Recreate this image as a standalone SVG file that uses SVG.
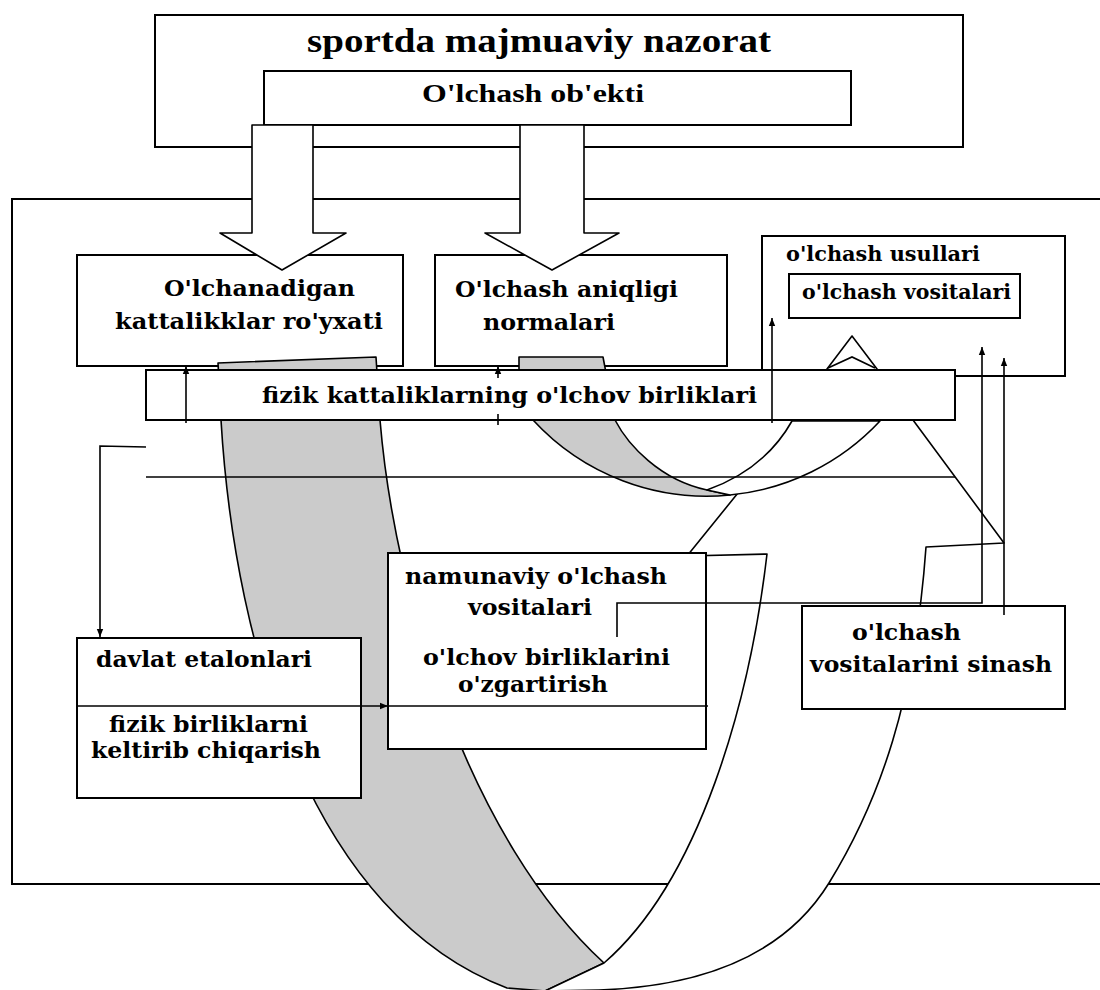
<svg xmlns="http://www.w3.org/2000/svg" width="1100" height="990" viewBox="0 0 1100 990">
<defs>
<marker id="ah" viewBox="0 0 10 10" refX="10" refY="5" markerWidth="10" markerHeight="8" markerUnits="userSpaceOnUse" orient="auto"><path d="M0,1 L10,5 L0,9 Z" fill="#000"/></marker>
<style>
.box{fill:#fff;stroke:#000;stroke-width:2}
.frame{fill:none;stroke:#000;stroke-width:2}
.ln{fill:none;stroke:#000;stroke-width:1.6}
.rib{stroke:#000;stroke-width:1.6;stroke-linejoin:round}
.gray{fill:#cbcbcb}
.white{fill:#fff}
.t{font-family:"DejaVu Serif","Liberation Serif",serif;font-weight:bold;font-size:23px;fill:#000}
.ts{font-size:20px}
.tt{font-family:"Liberation Serif","Times New Roman",serif;font-weight:bold;fill:#000}
</style>
</defs>

<!-- heading block -->
<g id="title">
<rect class="box" x="155" y="15" width="808" height="132"/>
<text class="tt" x="307" y="52" font-size="34" textLength="464" lengthAdjust="spacingAndGlyphs">sportda majmuaviy nazorat</text>
</g>
<g id="object">
<rect class="box" x="264" y="71" width="587" height="54"/>
<text class="tt" x="422" y="102" font-size="26" textLength="222" lengthAdjust="spacingAndGlyphs">O'lchash ob'ekti</text>
</g>

<!-- outer frame, open on the right -->
<path class="frame" d="M1110,199 H12 V884 H1110"/>

<!-- upper boxes -->
<g id="quantities">
<rect class="box" x="77" y="255" width="326" height="111"/>
<text class="t" x="164" y="296" textLength="191" lengthAdjust="spacingAndGlyphs">O'lchanadigan</text>
<text class="t" x="115" y="329" textLength="268" lengthAdjust="spacingAndGlyphs">kattalikklar ro'yxati</text>
</g>
<g id="accuracy">
<rect class="box" x="435" y="255" width="292" height="111"/>
<text class="t" x="455" y="297" textLength="223" lengthAdjust="spacingAndGlyphs">O'lchash aniqligi</text>
<text class="t" x="483" y="330" textLength="132" lengthAdjust="spacingAndGlyphs">normalari</text>
</g>
<g id="methods">
<rect class="box" x="762" y="236" width="303" height="140"/>
<text class="t ts" x="786" y="261" textLength="194" lengthAdjust="spacingAndGlyphs">o'lchash usullari</text>
</g>
<g id="instruments">
<rect class="box" x="789" y="274" width="231" height="44"/>
<text class="t ts" x="802" y="299" textLength="209" lengthAdjust="spacingAndGlyphs">o'lchash vositalari</text>
</g>

<!-- twisted ribbons -->
<g id="ribbons">
<!-- large ribbon: shaded back face -->
<path class="rib gray" d="M218,363 L376,357 L380,420 C395,600 470,840 604,963 L545,991 L507,988 C315,915 235,655 221,420 Z"/>
<!-- large ribbon: front face with arrow head -->
<path class="rib white" d="M604,963 C700,880 750,700 767,554 L687,556 L797,420 L827,369 L852,336 L877,369 L913,420 L1004,543 L926,547 C915,700 880,800 829,883 C800,930 740,985 599,990 L545,991 Z"/>
<path class="ln" d="M828,368 L852,357 L875,368"/>
<!-- small ring: shaded part -->
<path class="rib gray" d="M519,357 L603,357 L615,420 C628,445 660,480 707,490 L730,495 A236,236 0 0 1 533,420 L519,370 Z"/>
<!-- small ring: front part -->
<path class="rib white" d="M707,490 C735,480 770,460 792,421 L880,421 A236,236 0 0 1 730,495 Z"/>
</g>

<!-- band of units -->
<g id="units">
<rect class="box" x="146" y="370" width="809" height="50"/>
<text class="t" x="262" y="403" textLength="495" lengthAdjust="spacingAndGlyphs">fizik kattaliklarning o'lchov birliklari</text>
</g>

<!-- lower boxes -->
<g id="standards">
<rect class="box" x="77" y="638" width="284" height="160"/>
<text class="t" x="96" y="667" textLength="216" lengthAdjust="spacingAndGlyphs">davlat etalonlari</text>
<text class="t" x="109" y="732" textLength="199" lengthAdjust="spacingAndGlyphs">fizik birliklarni</text>
<text class="t" x="91" y="758" textLength="230" lengthAdjust="spacingAndGlyphs">keltirib chiqarish</text>
</g>
<g id="reference">
<rect class="box" x="388" y="553" width="318" height="196"/>
<text class="t" x="405" y="584" textLength="262" lengthAdjust="spacingAndGlyphs">namunaviy o'lchash</text>
<text class="t" x="468" y="615" textLength="124" lengthAdjust="spacingAndGlyphs">vositalari</text>
<text class="t" x="423" y="665" textLength="247" lengthAdjust="spacingAndGlyphs">o'lchov birliklarini</text>
<text class="t" x="458" y="692" textLength="150" lengthAdjust="spacingAndGlyphs">o'zgartirish</text>
</g>
<g id="testing">
<rect class="box" x="802" y="606" width="263" height="103"/>
<text class="t" x="852" y="640" textLength="109" lengthAdjust="spacingAndGlyphs">o'lchash</text>
<text class="t" x="810" y="672" textLength="242" lengthAdjust="spacingAndGlyphs">vositalarini sinash</text>
</g>

<!-- connectors -->
<g id="connectors">
<path class="ln" d="M146,447 L100,446 L100,637" marker-end="url(#ah)"/>
<path class="ln" d="M146,477 H955"/>
<path class="ln" d="M77,706 H388" marker-end="url(#ah)"/>
<path class="ln" d="M388,706 H708"/>
<path class="ln" d="M617,637 V603 H982 V347" marker-end="url(#ah)"/>
<path class="ln" d="M1004,615 V358" marker-end="url(#ah)"/>
<path class="ln" d="M186,423 V366" marker-end="url(#ah)"/>
<path class="ln" d="M772,423 V318" marker-end="url(#ah)"/>
<path class="ln" d="M498,378 V366" marker-end="url(#ah)"/>
<path class="ln" d="M498,414 V425"/>
</g>

<!-- hollow block arrows from the object box -->
<g id="block-arrows">
<path class="rib white" d="M252,125 H313 V233 H346 L282,270 L220,233 H252 Z"/>
<path class="rib white" d="M520,125 H584 V233 H619 L552,270 L485,233 H520 Z"/>
</g>
</svg>
